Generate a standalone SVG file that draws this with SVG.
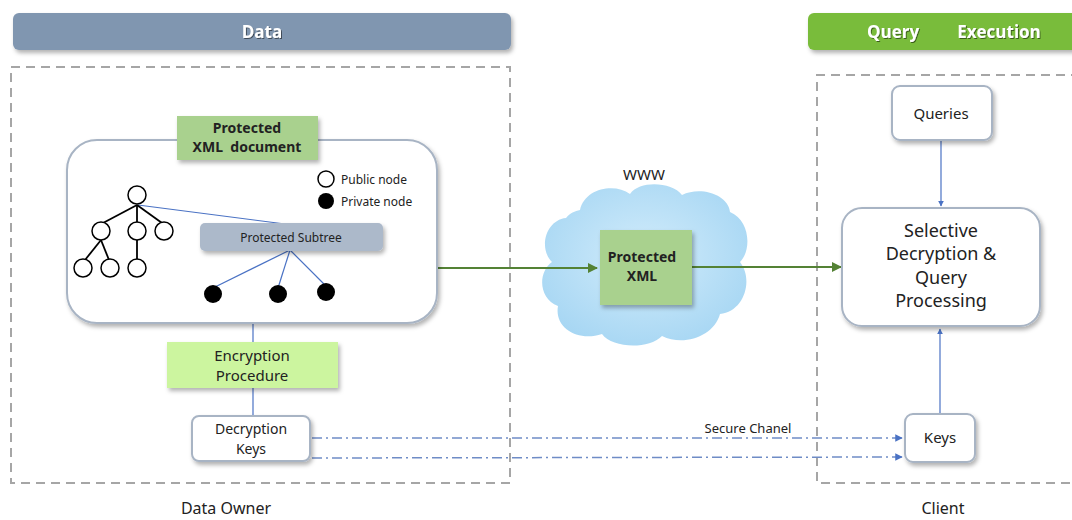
<svg xmlns="http://www.w3.org/2000/svg" width="1072" height="520" viewBox="0 0 1072 520">
<style>
.t{font-family:"Noto Sans","Open Sans","Liberation Sans",sans-serif;fill:#222;text-anchor:middle}
.hd{font-family:"Open Sans","Liberation Sans",sans-serif;font-weight:bold;font-size:17px;fill:#fff;text-anchor:middle}
.dash{fill:none;stroke:#a6a6a6;stroke-width:2;stroke-dasharray:9,6}
.wbox{fill:#fff;stroke:#a8b4c4;stroke-width:2}
.bl{stroke:#4a72c4;stroke-width:1.2;fill:none}
.gr{stroke:#548235;stroke-width:2;fill:none}
.dd{stroke:#6f8cc6;stroke-width:1.5;fill:none;stroke-dasharray:10,4,2,4}
.tree{stroke:#000;stroke-width:1.8;fill:none}
.oc{fill:#fff;stroke:#000;stroke-width:1.5}
.fc{fill:#000}
</style>
<defs>
<filter id="sh" x="-20%" y="-20%" width="140%" height="150%"><feDropShadow dx="2" dy="3" stdDeviation="2" flood-color="#000" flood-opacity="0.3"/></filter>
<filter id="ts" x="-10%" y="-20%" width="120%" height="150%"><feDropShadow dx="1" dy="1" stdDeviation="0.6" flood-color="#000" flood-opacity="0.5"/></filter>
<marker id="ab" viewBox="0 0 10 10" refX="9" refY="5" markerWidth="5" markerHeight="5" orient="auto"><path d="M0,0 L10,5 L0,10 z" fill="#4a72c4"/></marker>
<marker id="ag" viewBox="0 0 10 10" refX="9" refY="5" markerWidth="5" markerHeight="5" orient="auto"><path d="M0,0 L10,5 L0,10 z" fill="#548235"/></marker>
<radialGradient id="cloudg" cx="50%" cy="45%" r="60%"><stop offset="0" stop-color="#d2ecfb"/><stop offset="1" stop-color="#a6d6f3"/></radialGradient>
</defs>

<g id="header-data">
<rect x="13" y="13" width="498" height="37" rx="6" fill="#8096b0" filter="url(#sh)"/>
<text class="hd" x="262" y="38" filter="url(#ts)">Data</text>
</g>
<g id="header-query">
<rect x="808" y="13" width="275" height="37" rx="6" fill="#79bc3a" filter="url(#sh)"/>
<text class="hd" x="893" y="38" filter="url(#ts)">Query</text>
<text class="hd" x="999" y="38" filter="url(#ts)">Execution</text>
</g>

<g id="data-owner">
<rect class="dash" x="11" y="67" width="499" height="416"/>
<text class="t" x="226" y="514" font-size="16">Data Owner</text>
</g>
<g id="client">
<path class="dash" d="M1080,75 H817 V483 H1080"/>
<text class="t" x="943" y="514" font-size="16">Client</text>
</g>

<g id="www">
<text class="t" x="644" y="180" font-size="15">WWW</text>
<path d="M580,210 C585,188 615,183 630,194 C640,180 672,182 682,195 C700,186 728,194 730,212 C750,220 752,250 740,262 C754,280 744,312 720,314 C714,336 684,347 662,336 C648,350 612,348 602,334 C578,342 554,328 558,306 C538,298 538,272 552,262 C538,248 546,220 566,218 C570,213 575,211 580,210 Z" fill="url(#cloudg)"/>
</g>

<g id="connectors">
<line class="bl" x1="253" y1="323" x2="253" y2="342"/>
<line class="bl" x1="253" y1="388" x2="253" y2="416"/>
<line class="gr" x1="437" y1="268" x2="597" y2="268" marker-end="url(#ag)"/>
<line class="gr" x1="692" y1="267" x2="841" y2="267" marker-end="url(#ag)"/>
<line class="bl" x1="941" y1="140" x2="941" y2="206" marker-end="url(#ab)"/>
<line class="bl" x1="940" y1="414" x2="940" y2="329" stroke-width="2" marker-end="url(#ab)"/>
<line class="dd" x1="312" y1="438" x2="902" y2="438" marker-end="url(#ab)"/>
<line class="dd" x1="312" y1="458" x2="902" y2="457" marker-end="url(#ab)"/>
<text class="t" x="748" y="433" font-size="13">Secure Chanel</text>
</g>

<g id="xml-document">
<rect class="wbox" x="67" y="140" width="370" height="183" rx="30" filter="url(#sh)"/>
<line class="bl" x1="138" y1="205" x2="285" y2="224" stroke="#6f8cc6"/>
<g class="tree">
<line x1="137" y1="205" x2="103" y2="223"/>
<line x1="137" y1="205" x2="137" y2="222"/>
<line x1="137" y1="205" x2="162" y2="223"/>
<line x1="101" y1="240" x2="85" y2="260"/>
<line x1="101" y1="240" x2="109" y2="260"/>
<line x1="137" y1="240" x2="137" y2="259"/>
</g>
<circle class="oc" cx="137" cy="195" r="9"/>
<circle class="oc" cx="101" cy="231" r="9"/>
<circle class="oc" cx="137" cy="231" r="9"/>
<circle class="oc" cx="164" cy="231" r="9"/>
<circle class="oc" cx="83" cy="268" r="9"/>
<circle class="oc" cx="110" cy="268" r="9"/>
<circle class="oc" cx="137" cy="268" r="9"/>
<circle class="oc" cx="326" cy="179" r="8"/>
<text class="t" x="341" y="184" font-size="12" style="text-anchor:start">Public node</text>
<circle class="fc" cx="326" cy="201" r="8"/>
<text class="t" x="341" y="206" font-size="12" style="text-anchor:start">Private node</text>
</g>

<g id="protected-label">
<rect x="177" y="116" width="141" height="44" fill="#a9d18e" filter="url(#sh)"/>
<text class="t" x="247" y="133" font-size="14" font-weight="bold">Protected</text>
<text class="t" x="247" y="152" font-size="14" font-weight="bold">XML&#160; document</text>
</g>

<g id="protected-subtree">
<line class="bl" stroke="#6f8cc6" x1="290" y1="250" x2="213" y2="288"/>
<line class="bl" stroke="#6f8cc6" x1="290" y1="250" x2="278" y2="288"/>
<line class="bl" stroke="#6f8cc6" x1="290" y1="250" x2="326" y2="286"/>
<rect x="200" y="223" width="183" height="28" rx="5" fill="#acb9ca" filter="url(#sh)"/>
<text class="t" x="291" y="242" font-size="12">Protected Subtree</text>
<circle class="fc" cx="213" cy="294" r="9"/>
<circle class="fc" cx="278" cy="294" r="9"/>
<circle class="fc" cx="326" cy="292" r="9"/>
</g>

<g id="encryption">
<rect x="167" y="342" width="171" height="46" fill="#ccf59f" filter="url(#sh)"/>
<text class="t" x="252" y="361" font-size="15">Encryption</text>
<text class="t" x="252" y="381" font-size="15">Procedure</text>
</g>

<g id="decryption-keys">
<rect class="wbox" x="192" y="416" width="118" height="45" rx="7" filter="url(#sh)"/>
<text class="t" x="251" y="434" font-size="14">Decryption</text>
<text class="t" x="251" y="454" font-size="14">Keys</text>
</g>

<g id="protected-xml">
<rect x="600" y="230" width="92" height="75" fill="#a9d18e" filter="url(#sh)"/>
<text class="t" x="642" y="262" font-size="14" font-weight="bold">Protected</text>
<text class="t" x="642" y="281" font-size="14" font-weight="bold">XML</text>
</g>

<g id="queries">
<rect class="wbox" x="892" y="86" width="100" height="54" rx="8" filter="url(#sh)"/>
<text class="t" x="941" y="119" font-size="15">Queries</text>
</g>

<g id="selective">
<rect class="wbox" x="842" y="208" width="198" height="118" rx="20" filter="url(#sh)"/>
<text class="t" x="941" y="237" font-size="18">Selective</text>
<text class="t" x="941" y="260" font-size="18">Decryption &amp;</text>
<text class="t" x="941" y="284" font-size="18">Query</text>
<text class="t" x="941" y="307" font-size="18">Processing</text>
</g>

<g id="keys">
<rect class="wbox" x="905" y="414" width="70" height="48" rx="8" filter="url(#sh)"/>
<text class="t" x="940" y="443" font-size="15">Keys</text>
</g>
</svg>
